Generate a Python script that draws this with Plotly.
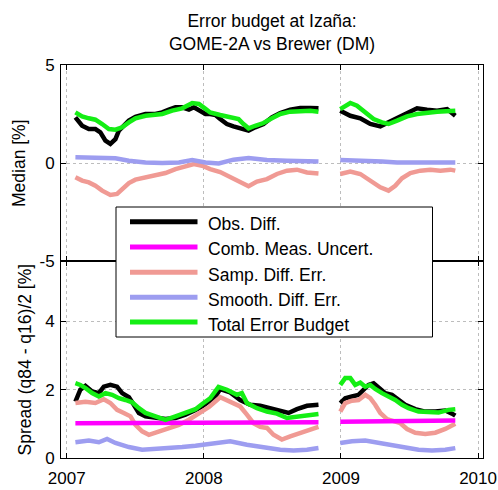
import plotly.graph_objects as go

# ---------------- data (decimal years, %) ----------------
x_ticks = [2007, 2008, 2009, 2010]
x_ticklabels = ["2007", "2008", "2009", "2010"]
med_ticks = [-5, 0, 5]
med_ticklabels = ["-5", "0", "5"]
spr_ticks = [0, 2, 4]
spr_ticklabels = ["0", "2", "4"]

series_names = ["Obs. Diff.", "Comb. Meas. Uncert.", "Samp. Diff. Err.",
                "Smooth. Diff. Err.", "Total Error Budget"]
series_colors = ["#000000", "#ff00ff", "#f09a94", "#9d9df0", "#14ee14"]

# ---- Median panel ----
med_obs_t1 = [2007.063, 2007.112, 2007.161, 2007.209, 2007.245, 2007.282, 2007.318, 2007.355,
              2007.380, 2007.416, 2007.453, 2007.501, 2007.574, 2007.647, 2007.696, 2007.745,
              2007.793, 2007.842, 2007.891, 2007.927, 2007.964, 2008.012, 2008.046, 2008.085,
              2008.119, 2008.168, 2008.216, 2008.265, 2008.326, 2008.374, 2008.435, 2008.496,
              2008.557, 2008.630, 2008.703, 2008.776, 2008.836]
med_obs_v1 = [2.33, 1.90, 1.73, 1.73, 1.56, 1.14, 0.97, 1.22,
              1.65, 1.90, 2.16, 2.36, 2.50, 2.50, 2.58, 2.72,
              2.84, 2.84, 2.72, 2.84, 2.67, 2.50, 2.50, 2.45,
              2.24, 1.99, 1.87, 1.77, 1.65, 1.82, 1.99, 2.33,
              2.55, 2.72, 2.81, 2.81, 2.79]
med_obs_t2 = [2008.995, 2009.068, 2009.141, 2009.214, 2009.287, 2009.347, 2009.409, 2009.482,
              2009.555, 2009.628, 2009.701, 2009.774, 2009.834]
med_obs_v2 = [2.67, 2.41, 2.28, 1.99, 1.87, 2.07, 2.33, 2.58,
              2.79, 2.72, 2.67, 2.75, 2.41]

med_tot_t1 = [2007.063, 2007.112, 2007.161, 2007.209, 2007.258, 2007.307, 2007.355, 2007.404,
              2007.453, 2007.501, 2007.574, 2007.647, 2007.696, 2007.769, 2007.842, 2007.915,
              2007.964, 2008.012, 2008.046, 2008.119, 2008.192, 2008.253, 2008.289, 2008.326,
              2008.374, 2008.435, 2008.496, 2008.557, 2008.630, 2008.703, 2008.776, 2008.836]
med_tot_v1 = [2.58, 2.38, 2.28, 2.21, 1.99, 1.73, 1.70, 1.82,
              2.07, 2.28, 2.41, 2.45, 2.50, 2.67, 2.79, 3.06,
              3.01, 2.76, 2.58, 2.45, 2.33, 2.24, 1.99, 1.77,
              1.90, 2.04, 2.28, 2.50, 2.62, 2.67, 2.67, 2.62]
med_tot_t2 = [2008.995, 2009.068, 2009.117, 2009.165, 2009.238, 2009.299, 2009.347, 2009.409,
              2009.482, 2009.555, 2009.628, 2009.701, 2009.834]
med_tot_v2 = [2.75, 3.06, 2.92, 2.62, 2.24, 2.07, 1.99, 2.16,
              2.38, 2.50, 2.58, 2.62, 2.67]

med_smo_t1 = [2007.063, 2007.209, 2007.355, 2007.453, 2007.574, 2007.696, 2007.818, 2007.915,
              2008.012, 2008.109, 2008.216, 2008.326, 2008.460, 2008.606, 2008.836]
med_smo_v1 = [0.29, 0.29, 0.24, 0.12, 0.03, 0.00, 0.03, 0.15,
              0.03, -0.02, 0.17, 0.26, 0.15, 0.12, 0.08]
med_smo_t2 = [2008.995, 2009.100, 2009.200, 2009.300, 2009.409, 2009.500, 2009.600, 2009.700, 2009.834]
med_smo_v2 = [0.15, 0.14, 0.12, 0.08, 0.03, 0.02, 0.03, 0.04, 0.03]

med_smp_t1 = [2007.063, 2007.112, 2007.161, 2007.209, 2007.258, 2007.318, 2007.367, 2007.416,
              2007.453, 2007.501, 2007.574, 2007.647, 2007.720, 2007.793, 2007.866, 2007.927,
              2007.988, 2008.046, 2008.119, 2008.192, 2008.265, 2008.326, 2008.387, 2008.460,
              2008.533, 2008.606, 2008.679, 2008.752, 2008.836]
med_smp_v1 = [-0.73, -0.90, -0.99, -1.16, -1.41, -1.63, -1.58, -1.24,
              -1.02, -0.85, -0.73, -0.65, -0.51, -0.31, -0.14, -0.05,
              -0.14, -0.31, -0.46, -0.73, -0.99, -1.19, -0.95, -0.82,
              -0.56, -0.39, -0.34, -0.48, -0.53]
med_smp_t2 = [2008.995, 2009.068, 2009.141, 2009.214, 2009.287, 2009.347, 2009.396, 2009.445,
              2009.506, 2009.579, 2009.652, 2009.725, 2009.798, 2009.834]
med_smp_v2 = [-0.56, -0.44, -0.56, -0.90, -1.24, -1.41, -1.16, -0.78,
              -0.51, -0.39, -0.34, -0.39, -0.34, -0.39]

# ---- Spread panel ----
spr_obs_t1 = [2007.063, 2007.099, 2007.136, 2007.185, 2007.234, 2007.270, 2007.318, 2007.367,
              2007.404, 2007.453, 2007.489, 2007.526, 2007.574, 2007.647, 2007.720, 2007.793,
              2007.866, 2007.939, 2007.988, 2008.046, 2008.085, 2008.119, 2008.192, 2008.265,
              2008.338, 2008.411, 2008.484, 2008.557, 2008.618, 2008.679, 2008.752, 2008.836]
spr_obs_v1 = [1.65, 2.00, 2.11, 1.95, 1.90, 2.09, 2.14, 2.09,
              1.90, 1.78, 1.56, 1.32, 1.22, 1.17, 1.14, 1.17,
              1.27, 1.41, 1.51, 1.68, 1.80, 2.02, 1.92, 1.70,
              1.56, 1.53, 1.46, 1.39, 1.32, 1.43, 1.53, 1.56]
spr_obs_t2 = [2008.995, 2009.031, 2009.080, 2009.128, 2009.165, 2009.201, 2009.238, 2009.274,
              2009.323, 2009.372, 2009.420, 2009.469, 2009.542, 2009.615, 2009.688, 2009.761,
              2009.810, 2009.834]
spr_obs_v2 = [1.61, 1.75, 1.80, 1.85, 2.00, 2.14, 2.19, 2.05,
              1.90, 1.85, 1.70, 1.56, 1.43, 1.36, 1.36, 1.39,
              1.30, 1.24]

spr_tot_t1 = [2007.063, 2007.099, 2007.136, 2007.185, 2007.234, 2007.282, 2007.331, 2007.380,
              2007.428, 2007.477, 2007.526, 2007.574, 2007.647, 2007.720, 2007.793, 2007.866,
              2007.939, 2007.988, 2008.046, 2008.107, 2008.168, 2008.241, 2008.277, 2008.314,
              2008.387, 2008.460, 2008.533, 2008.606, 2008.679, 2008.752, 2008.836]
spr_tot_v1 = [2.19, 2.14, 2.05, 1.90, 1.80, 1.90, 1.85, 1.75,
              1.70, 1.63, 1.46, 1.32, 1.22, 1.12, 1.22, 1.33,
              1.43, 1.58, 1.75, 2.08, 2.00, 1.85, 1.90, 1.61,
              1.46, 1.36, 1.30, 1.17, 1.20, 1.25, 1.29]
spr_tot_t2 = [2008.995, 2009.031, 2009.068, 2009.104, 2009.141, 2009.177, 2009.214, 2009.250,
              2009.299, 2009.347, 2009.396, 2009.445, 2009.493, 2009.566, 2009.639, 2009.712,
              2009.785, 2009.834]
spr_tot_v2 = [2.14, 2.34, 2.34, 2.14, 2.21, 2.09, 2.14, 2.02,
              1.90, 1.80, 1.70, 1.56, 1.46, 1.36, 1.33, 1.33,
              1.41, 1.43]

spr_smp_t1 = [2007.063, 2007.136, 2007.209, 2007.270, 2007.318, 2007.367, 2007.416, 2007.465,
              2007.501, 2007.550, 2007.599, 2007.672, 2007.745, 2007.818, 2007.891, 2007.964,
              2008.040, 2008.119, 2008.192, 2008.265, 2008.314, 2008.362, 2008.411, 2008.460,
              2008.508, 2008.569, 2008.630, 2008.703, 2008.776, 2008.836]
spr_smp_v1 = [1.61, 1.65, 1.61, 1.72, 1.61, 1.41, 1.32, 1.22,
              0.97, 0.78, 0.68, 0.78, 0.88, 0.97, 1.12, 1.30,
              1.50, 1.78, 1.65, 1.51, 1.27, 1.02, 0.91, 0.88,
              0.68, 0.54, 0.63, 0.73, 0.81, 0.91]
spr_smp_t2 = [2008.995, 2009.031, 2009.080, 2009.128, 2009.177, 2009.214, 2009.250, 2009.287,
              2009.336, 2009.384, 2009.433, 2009.482, 2009.542, 2009.615, 2009.688, 2009.761,
              2009.834]
spr_smp_v2 = [1.36, 1.61, 1.68, 1.70, 1.85, 1.75, 1.56, 1.32,
              1.14, 1.07, 1.02, 0.85, 0.74, 0.70, 0.74, 0.85,
              1.00]

spr_smo_t1 = [2007.063, 2007.161, 2007.234, 2007.294, 2007.355, 2007.453, 2007.550, 2007.647,
              2007.745, 2007.842, 2007.939, 2008.036, 2008.121, 2008.192, 2008.314, 2008.460,
              2008.557, 2008.654, 2008.752, 2008.836]
spr_smo_v1 = [0.46, 0.51, 0.46, 0.56, 0.44, 0.32, 0.24, 0.26,
              0.29, 0.32, 0.36, 0.42, 0.46, 0.49, 0.39, 0.29,
              0.24, 0.22, 0.24, 0.29]
spr_smo_t2 = [2008.995, 2009.080, 2009.177, 2009.274, 2009.372, 2009.469, 2009.566, 2009.664,
              2009.761, 2009.834]
spr_smo_v2 = [0.44, 0.49, 0.51, 0.44, 0.39, 0.32, 0.24, 0.22, 0.24, 0.29]

spr_cmb_t1 = [2007.063, 2007.500, 2008.000, 2008.500, 2008.836]
spr_cmb_v1 = [1.02, 1.03, 1.04, 1.05, 1.05]
spr_cmb_t2 = [2008.995, 2009.400, 2009.834]
spr_cmb_v2 = [1.06, 1.08, 1.10]

# ---------------- figure ----------------
FONT = "Liberation Sans, Arial, Helvetica, sans-serif"
LW = 4.5


def join(a1, a2):
    return list(a1) + [None] + list(a2)


fig = go.Figure()

top = [
    (med_obs_t1, med_obs_v1, med_obs_t2, med_obs_v2, 0),
    (med_smp_t1, med_smp_v1, med_smp_t2, med_smp_v2, 2),
    (med_smo_t1, med_smo_v1, med_smo_t2, med_smo_v2, 3),
    (med_tot_t1, med_tot_v1, med_tot_t2, med_tot_v2, 4),
]
bottom = [
    (spr_obs_t1, spr_obs_v1, spr_obs_t2, spr_obs_v2, 0),
    (spr_smp_t1, spr_smp_v1, spr_smp_t2, spr_smp_v2, 2),
    (spr_smo_t1, spr_smo_v1, spr_smo_t2, spr_smo_v2, 3),
    (spr_cmb_t1, spr_cmb_v1, spr_cmb_t2, spr_cmb_v2, 1),
    (spr_tot_t1, spr_tot_v1, spr_tot_t2, spr_tot_v2, 4),
]

for t1, v1, t2, v2, k in top:
    fig.add_trace(go.Scatter(x=join(t1, t2), y=join(v1, v2), mode="lines",
                             line=dict(color=series_colors[k], width=LW),
                             name=series_names[k], showlegend=False,
                             xaxis="x2", yaxis="y2", connectgaps=False))
for t1, v1, t2, v2, k in bottom:
    fig.add_trace(go.Scatter(x=join(t1, t2), y=join(v1, v2), mode="lines",
                             line=dict(color=series_colors[k], width=LW),
                             name=series_names[k], showlegend=False,
                             xaxis="x", yaxis="y", connectgaps=False))

split = (458 - 261) / 393.0
xr = [2006.958, 2010.036]
axis_common = dict(showline=True, linecolor="black", linewidth=1, mirror="allticks",
                   ticks="inside", ticklen=5, tickcolor="black", tickwidth=1,
                   showgrid=True, gridcolor="#bdbdbd", griddash="dot", gridwidth=1,
                   zeroline=False, automargin=False,
                   tickfont=dict(family=FONT, size=17, color="black"))

fig.update_layout(
    width=498, height=490,
    margin=dict(l=61, r=15, t=65, b=32, autoexpand=False),
    paper_bgcolor="white", plot_bgcolor="white",
    showlegend=False,
    xaxis=dict(domain=[0, 1], range=xr, tickvals=x_ticks, ticktext=x_ticklabels,
               anchor="y", ticklabelstandoff=5, **axis_common),
    yaxis=dict(domain=[0, split], range=[0, 5.77], tickvals=spr_ticks,
               ticktext=spr_ticklabels, anchor="x", ticklabelstandoff=2, **axis_common),
    xaxis2=dict(domain=[0, 1], range=xr, tickvals=x_ticks, showticklabels=False,
                anchor="y2", matches="x", **axis_common),
    yaxis2=dict(domain=[split, 1], range=[-5, 5], tickvals=med_ticks,
                ticktext=med_ticklabels, anchor="x2", ticklabelstandoff=2, **axis_common),
)

# title
fig.add_annotation(text="Error budget at Izaña:<br>GOME-2A vs Brewer (DM)",
                   xref="paper", yref="paper", x=0.5, y=1.0, yshift=9,
                   xanchor="center", yanchor="bottom", showarrow=False,
                   font=dict(family=FONT, size=17.5, color="black"))
# y-axis titles
fig.add_annotation(text="Median [%]", textangle=-90, xref="paper", yref="paper",
                   x=(19 - 61) / 422.0, y=(split + 1) / 2, xanchor="center", yanchor="middle",
                   showarrow=False, font=dict(family=FONT, size=17.5, color="black"))
fig.add_annotation(text="Spread (q84 - q16)/2 [%]", textangle=-90, xref="paper", yref="paper",
                   x=(24 - 61) / 422.0, y=split / 2, xanchor="center", yanchor="middle",
                   showarrow=False, font=dict(family=FONT, size=17.5, color="black"))

# legend box (drawn manually to match MATLAB-style legend)
def px_x(p):
    return (p - 61) / 422.0


def px_y(p):
    return (458 - p) / 393.0


fig.add_shape(type="rect", xref="paper", yref="paper",
              x0=px_x(116), x1=px_x(432.5), y0=px_y(337), y1=px_y(207),
              line=dict(color="black", width=1), fillcolor="white", layer="above")
row_y = [221.7, 247.0, 272.3, 297.3, 322.0]
for k in range(5):
    fig.add_shape(type="line", xref="paper", yref="paper",
                  x0=px_x(130), x1=px_x(197.5), y0=px_y(row_y[k]), y1=px_y(row_y[k]),
                  line=dict(color=series_colors[k], width=5), layer="above")
    fig.add_annotation(text=series_names[k], xref="paper", yref="paper",
                       x=px_x(206), y=px_y(row_y[k] + 2.5), xanchor="left", yanchor="middle",
                       showarrow=False, font=dict(family=FONT, size=17.5, color="black"))

fig.write_html("out.html")
